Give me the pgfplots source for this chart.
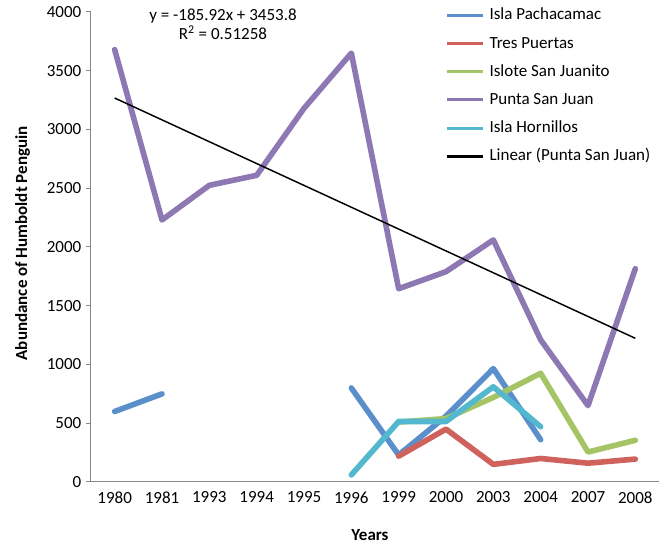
\documentclass[border=0pt]{standalone}
\usepackage{fontspec}
\setmainfont{Carlito}
\usepackage{pgfplots}
\usepackage{pgfplotstable}
\pgfplotsset{compat=1.18}

\definecolor{cpach}{HTML}{5A8FCB}
\definecolor{ctres}{HTML}{CF625C}
\definecolor{cjuan}{HTML}{A5C465}
\definecolor{cpunta}{HTML}{8E78B4}
\definecolor{chorn}{HTML}{52B7CF}
\definecolor{axisgray}{HTML}{878787}

% x = category index (1980 ... 2008), nan = no count that year
\pgfplotstableread{
x  pach tres juan punta horn
0  600  nan  nan  3680  nan
1  750  nan  nan  2230  nan
2  nan  nan  nan  2525  nan
3  nan  nan  nan  2610  nan
4  nan  nan  nan  3180  nan
5  800  nan  nan  3650  60
6  230  220  510  1645  515
7  560  450  540  1790  515
8  965  150  720  2060  810
9  360  200  925  1210  470
10 nan  160  255  650   nan
11 nan  195  355  1815  nan
}\penguins

\begin{document}
\begin{tikzpicture}
\path[use as bounding box] (0,0) rectangle (501.75pt,409.5pt);
\begin{axis}[
  at={(68.25pt,48pt)}, anchor=south west,
  width=426pt, height=352.5pt, scale only axis,
  xmin=-0.5, xmax=11.5, ymin=0, ymax=4000,
  xtick={0,...,11},
  xticklabels={1980,1981,1993,1994,1995,1996,1999,2000,2003,2004,2007,2008},
  minor xtick={-0.5,0.5,...,11.5},
  ytick={0,500,...,4000},
  axis lines*=left,
  tick align=outside,
  tick pos=left,
  xtick style={draw=none},
  major tick length=3.75pt,
  minor tick length=3.75pt,
  every tick/.style={axisgray, line width=0.75pt},
  minor x tick style={axisgray, line width=0.75pt},
  axis line style={axisgray, line width=0.75pt},
  ticklabel style={font=\fontsize{12.75}{15}\selectfont},
  /pgf/number format/assume math mode=true,
  /pgf/number format/1000 sep={},
  unbounded coords=jump,
  clip=false,
  legend style={draw=none, fill=none, at={(rel axis cs:0.616,1.015)}, anchor=north west,
    font=\fontsize{12.75}{15}\selectfont, row sep=9.6pt, column sep=4pt,
    nodes={inner sep=0pt, text height=9pt, text depth=2.5pt}},
  legend cell align=left,
  legend image code/.code={\draw[#1, line width=2.3pt, line cap=butt] (0pt,0pt) -- (27pt,0pt);},
]
\addplot[cpach, line width=4.2pt, line cap=round, line join=round]
  table[x=x, y=pach] {\penguins};
\addlegendentry{Isla Pachacamac}
\addplot[ctres, line width=4.2pt, line cap=round, line join=round]
  table[x=x, y=tres] {\penguins};
\addlegendentry{Tres Puertas}
\addplot[cjuan, line width=4.2pt, line cap=round, line join=round]
  table[x=x, y=juan] {\penguins};
\addlegendentry{Islote San Juanito}
\addplot[cpunta, line width=4.2pt, line cap=round, line join=round]
  table[x=x, y=punta] {\penguins};
\addlegendentry{Punta San Juan}
\addplot[chorn, line width=4.2pt, line cap=round, line join=round]
  table[x=x, y=horn] {\penguins};
\addlegendentry{Isla Hornillos}
% trend line y = -185.92x + 3453.8 at x = 1 and x = 12
\addplot[black, line width=1.1pt] coordinates {(0,3267.88) (11,1222.76)};
\addlegendentry{Linear (Punta San Juan)}

\node[align=center, font=\fontsize{12.75}{14.25}\selectfont]
  at (rel axis cs:0.2324,0.9734) {y = -185.92x + 3453.8\\R\textsuperscript{2} = 0.51258};
\end{axis}
\node[rotate=90, font=\bfseries\fontsize{12.75}{15}\selectfont] at (17pt,227pt)
  {Abundance of Humboldt Penguin};
\node[font=\bfseries\fontsize{12.75}{15}\selectfont] at (277.5pt,8.25pt) {Years};
\end{tikzpicture}
\end{document}
